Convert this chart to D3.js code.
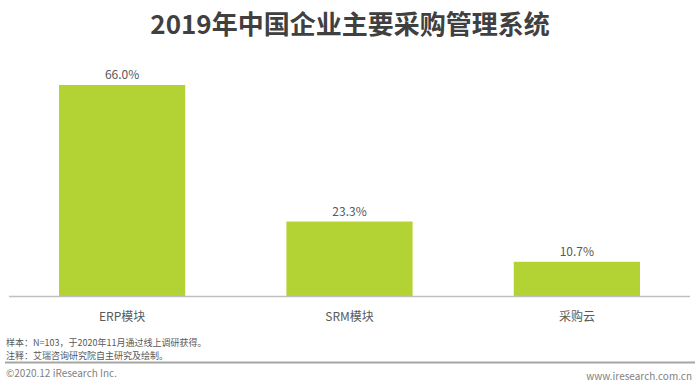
<!DOCTYPE html>
<html lang="zh">
<head>
<meta charset="UTF-8">
<title>2019年中国企业主要采购管理系统</title>
<style>
  body { margin: 0; background: #fff; font-family: "Noto Sans CJK SC", "Open Sans", sans-serif; }
  .title { font-size: 26px; font-weight: bold; fill: #404040; }
  .val, .cat { font-size: 12px; fill: #595959; }
  .note { font-size: 9px; fill: #595959; }
  .foot { font-size: 10px; fill: #7f7f7f; }
</style>
</head>
<body>
<svg width="700" height="386"></svg>
<script src="https://d3js.org/d3.v7.min.js"></script>
<script>
const categories = ["ERP模块", "SRM模块", "采购云"];
const values = [66.0, 23.3, 10.7];
const notes = ["样本：N=103，于2020年11月通过线上调研获得。", "注释：艾瑞咨询研究院自主研究及绘制。"];

const svg = d3.select("svg");

svg.append("text").attr("class", "title")
  .attr("x", 350).attr("y", 34).attr("text-anchor", "middle")
  .text("2019年中国企业主要采购管理系统");

const x = d3.scaleBand().domain(categories).range([9, 690]).paddingInner(0.445).paddingOuter(0.22);
const y = d3.scaleLinear().domain([0, 66]).range([296, 85]);

svg.selectAll(".bar").data(values).enter().append("rect")
  .attr("class", "bar")
  .attr("x", (d, i) => x(categories[i]))
  .attr("width", x.bandwidth())
  .attr("y", d => y(d))
  .attr("height", d => y(0) - y(d))
  .attr("fill", "#b3d334");

svg.selectAll(".val").data(values).enter().append("text")
  .attr("class", "val")
  .attr("x", (d, i) => x(categories[i]) + x.bandwidth() / 2)
  .attr("y", d => y(d) - 6)
  .attr("text-anchor", "middle")
  .text(d => d.toFixed(1) + "%");

// x axis
const axis = svg.append("g").attr("transform", `translate(0,${y(0)})`)
  .call(d3.axisBottom(x).tickSize(0).tickPadding(16));
axis.select(".domain").attr("stroke", "#bfbfbf").attr("stroke-width", 1.5).attr("d", "M9,0.5H690");
axis.selectAll("text").attr("class", "cat").attr("font-size", 12).attr("fill", "#595959")
  .attr("font-family", "'Noto Sans CJK SC', 'Open Sans', sans-serif");

svg.selectAll(".note").data(notes).enter().append("text")
  .attr("class", "note")
  .attr("x", 6).attr("y", (d, i) => 345.5 + i * 13)
  .text(d => d);

svg.append("line").attr("x1", 5).attr("x2", 695).attr("y1", 362.5).attr("y2", 362.5)
  .attr("stroke", "#a6a6a6").attr("stroke-width", 2);

svg.append("text").attr("class", "foot").attr("x", 6).attr("y", 377).text("©2020.12 iResearch Inc.");
svg.append("text").attr("class", "foot").attr("x", 692).attr("y", 380).attr("text-anchor", "end").text("www.iresearch.com.cn");
</script>
</body>
</html>
